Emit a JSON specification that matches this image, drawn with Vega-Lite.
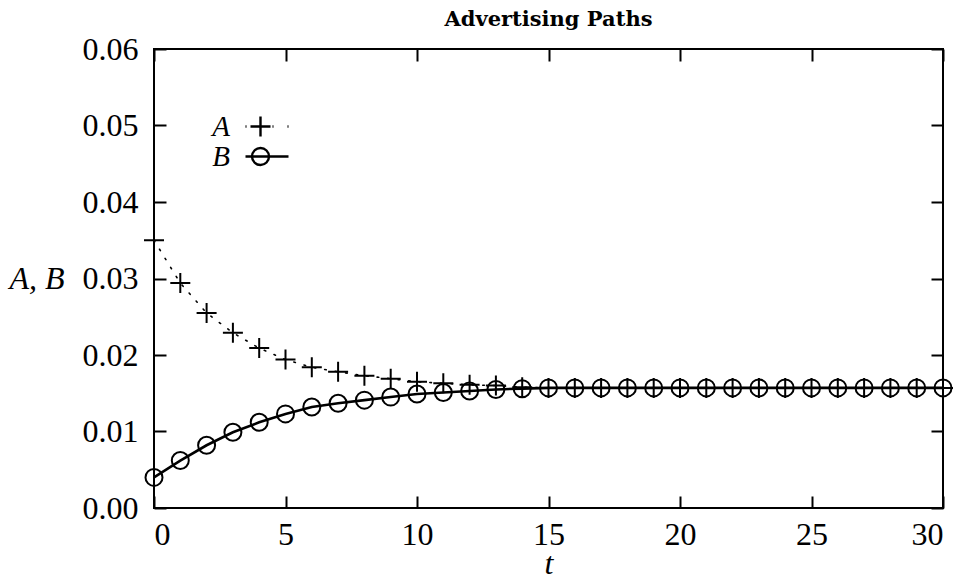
{
  "$schema": "https://vega.github.io/schema/vega-lite/v6.json",
  "width": 789,
  "height": 459,
  "autosize": {"type": "none"},
  "padding": {"left": 154, "top": 49, "right": 18, "bottom": 71},
  "background": "white",
  "title": {"text": "Advertising Paths", "font": "DejaVu Serif", "fontSize": 21, "fontWeight": "bold", "anchor": "middle", "offset": 3, "color": "black", "frame": "group"},
  "config": {
    "font": "Liberation Serif",
    "view": {"stroke": "black", "strokeWidth": 2},
    "axis": {"domain": false, "grid": false, "tickColor": "black", "tickWidth": 2, "tickSize": -12, "labelColor": "black", "labelFont": "Liberation Serif", "labelFontSize": 32, "titleColor": "black"}
  },
  "resolve": {"axis": {"x": "independent", "y": "independent"}},
  "data": {"values": [
    {"t": 0, "series": "A", "value": 0.0350}, {"t": 1, "series": "A", "value": 0.0294}, {"t": 2, "series": "A", "value": 0.0255},
    {"t": 3, "series": "A", "value": 0.0229}, {"t": 4, "series": "A", "value": 0.0209}, {"t": 5, "series": "A", "value": 0.0194},
    {"t": 6, "series": "A", "value": 0.0184}, {"t": 7, "series": "A", "value": 0.0178}, {"t": 8, "series": "A", "value": 0.0173},
    {"t": 9, "series": "A", "value": 0.0169}, {"t": 10, "series": "A", "value": 0.0165}, {"t": 11, "series": "A", "value": 0.0163},
    {"t": 12, "series": "A", "value": 0.0161}, {"t": 13, "series": "A", "value": 0.0160}, {"t": 14, "series": "A", "value": 0.0158},
    {"t": 15, "series": "A", "value": 0.0157}, {"t": 16, "series": "A", "value": 0.0157}, {"t": 17, "series": "A", "value": 0.0157},
    {"t": 18, "series": "A", "value": 0.0157}, {"t": 19, "series": "A", "value": 0.0157}, {"t": 20, "series": "A", "value": 0.0157},
    {"t": 21, "series": "A", "value": 0.0157}, {"t": 22, "series": "A", "value": 0.0157}, {"t": 23, "series": "A", "value": 0.0157},
    {"t": 24, "series": "A", "value": 0.0157}, {"t": 25, "series": "A", "value": 0.0157}, {"t": 26, "series": "A", "value": 0.0157},
    {"t": 27, "series": "A", "value": 0.0157}, {"t": 28, "series": "A", "value": 0.0157}, {"t": 29, "series": "A", "value": 0.0157},
    {"t": 30, "series": "A", "value": 0.0157},
    {"t": 0, "series": "B", "value": 0.0040}, {"t": 1, "series": "B", "value": 0.0062}, {"t": 2, "series": "B", "value": 0.0082},
    {"t": 3, "series": "B", "value": 0.0099}, {"t": 4, "series": "B", "value": 0.0112}, {"t": 5, "series": "B", "value": 0.0123},
    {"t": 6, "series": "B", "value": 0.0132}, {"t": 7, "series": "B", "value": 0.0137}, {"t": 8, "series": "B", "value": 0.0141},
    {"t": 9, "series": "B", "value": 0.0145}, {"t": 10, "series": "B", "value": 0.0149}, {"t": 11, "series": "B", "value": 0.0151},
    {"t": 12, "series": "B", "value": 0.0153}, {"t": 13, "series": "B", "value": 0.0155}, {"t": 14, "series": "B", "value": 0.0156},
    {"t": 15, "series": "B", "value": 0.0157}, {"t": 16, "series": "B", "value": 0.0157}, {"t": 17, "series": "B", "value": 0.0157},
    {"t": 18, "series": "B", "value": 0.0157}, {"t": 19, "series": "B", "value": 0.0157}, {"t": 20, "series": "B", "value": 0.0157},
    {"t": 21, "series": "B", "value": 0.0157}, {"t": 22, "series": "B", "value": 0.0157}, {"t": 23, "series": "B", "value": 0.0157},
    {"t": 24, "series": "B", "value": 0.0157}, {"t": 25, "series": "B", "value": 0.0157}, {"t": 26, "series": "B", "value": 0.0157},
    {"t": 27, "series": "B", "value": 0.0157}, {"t": 28, "series": "B", "value": 0.0157}, {"t": 29, "series": "B", "value": 0.0157},
    {"t": 30, "series": "B", "value": 0.0157}
  ]},
  "layer": [
    {
      "transform": [{"filter": "datum.series === 'A'"}],
      "mark": {"type": "line", "color": "black", "strokeWidth": 1.6, "strokeDash": [1.6, 9], "strokeCap": "round"},
      "encoding": {
        "x": {"field": "t", "type": "quantitative", "scale": {"domain": [0, 30], "nice": false, "zero": false},
              "axis": {"orient": "bottom", "values": [0, 5, 10, 15, 20, 25, 30], "labelPadding": 23, "title": "t", "titleFontStyle": "italic", "titleFontWeight": "normal", "titleFontSize": 32, "titlePadding": -2, "titleFont": "Liberation Serif"}},
        "y": {"field": "value", "type": "quantitative", "scale": {"domain": [0, 0.06], "nice": false, "zero": false},
              "axis": {"orient": "left", "values": [0, 0.01, 0.02, 0.03, 0.04, 0.05, 0.06], "format": ".2f", "labelPadding": 28, "title": "A, B", "titleAngle": 0, "titleAlign": "left", "titleBaseline": "middle", "titleX": -145, "titleY": 229, "titleFontStyle": "italic", "titleFontWeight": "normal", "titleFontSize": 32, "titleFont": "Liberation Serif"}}
      }
    },
    {
      "transform": [{"filter": "datum.series === 'B'"}],
      "mark": {"type": "line", "color": "black", "strokeWidth": 2.6},
      "encoding": {
        "x": {"field": "t", "type": "quantitative", "axis": null},
        "y": {"field": "value", "type": "quantitative", "axis": null}
      }
    },
    {
      "transform": [{"filter": "datum.series === 'A'"}],
      "mark": {"type": "point", "filled": false, "color": "black", "strokeWidth": 2, "size": 400, "shape": "M-1,0H1M0,-1V1"},
      "encoding": {
        "x": {"field": "t", "type": "quantitative", "axis": {"orient": "top", "values": [0, 5, 10, 15, 20, 25, 30], "labels": false, "title": null}},
        "y": {"field": "value", "type": "quantitative", "axis": {"orient": "right", "values": [0, 0.01, 0.02, 0.03, 0.04, 0.05, 0.06], "labels": false, "title": null}},
        "opacity": {"field": "series", "type": "nominal",
          "scale": {"domain": ["A", "B"], "range": [1, 1]},
          "legend": {"title": null, "orient": "none", "legendX": 92, "legendY": 63, "labelFont": "Liberation Serif", "labelFontStyle": "italic", "labelFontSize": 29, "labelColor": "black", "labelAlign": "right", "labelOffset": -45, "rowPadding": 0, "symbolSize": 400, "symbolStrokeColor": "black", "symbolStrokeWidth": 2.4, "symbolFillColor": "transparent",
            "symbolType": {"expr": "datum.value === 'A' ? 'M-1,0H1M0,-1V1M-1.5,0h0.1M1.2,0h0.1M2.7,0h0.1' : 'M-1.5,0H2.8M0.85,0A0.85,0.85 0 1 1 -0.85,0A0.85,0.85 0 1 1 0.85,0'"}}
        }
      }
    },
    {
      "transform": [{"filter": "datum.series === 'B'"}],
      "mark": {"type": "point", "filled": false, "color": "black", "strokeWidth": 2, "size": 400, "shape": "M0.85,0A0.85,0.85 0 1 1 -0.85,0A0.85,0.85 0 1 1 0.85,0"},
      "encoding": {
        "x": {"field": "t", "type": "quantitative", "axis": null},
        "y": {"field": "value", "type": "quantitative", "axis": null},
        "opacity": {"field": "series", "type": "nominal"}
      }
    }
  ]
}
